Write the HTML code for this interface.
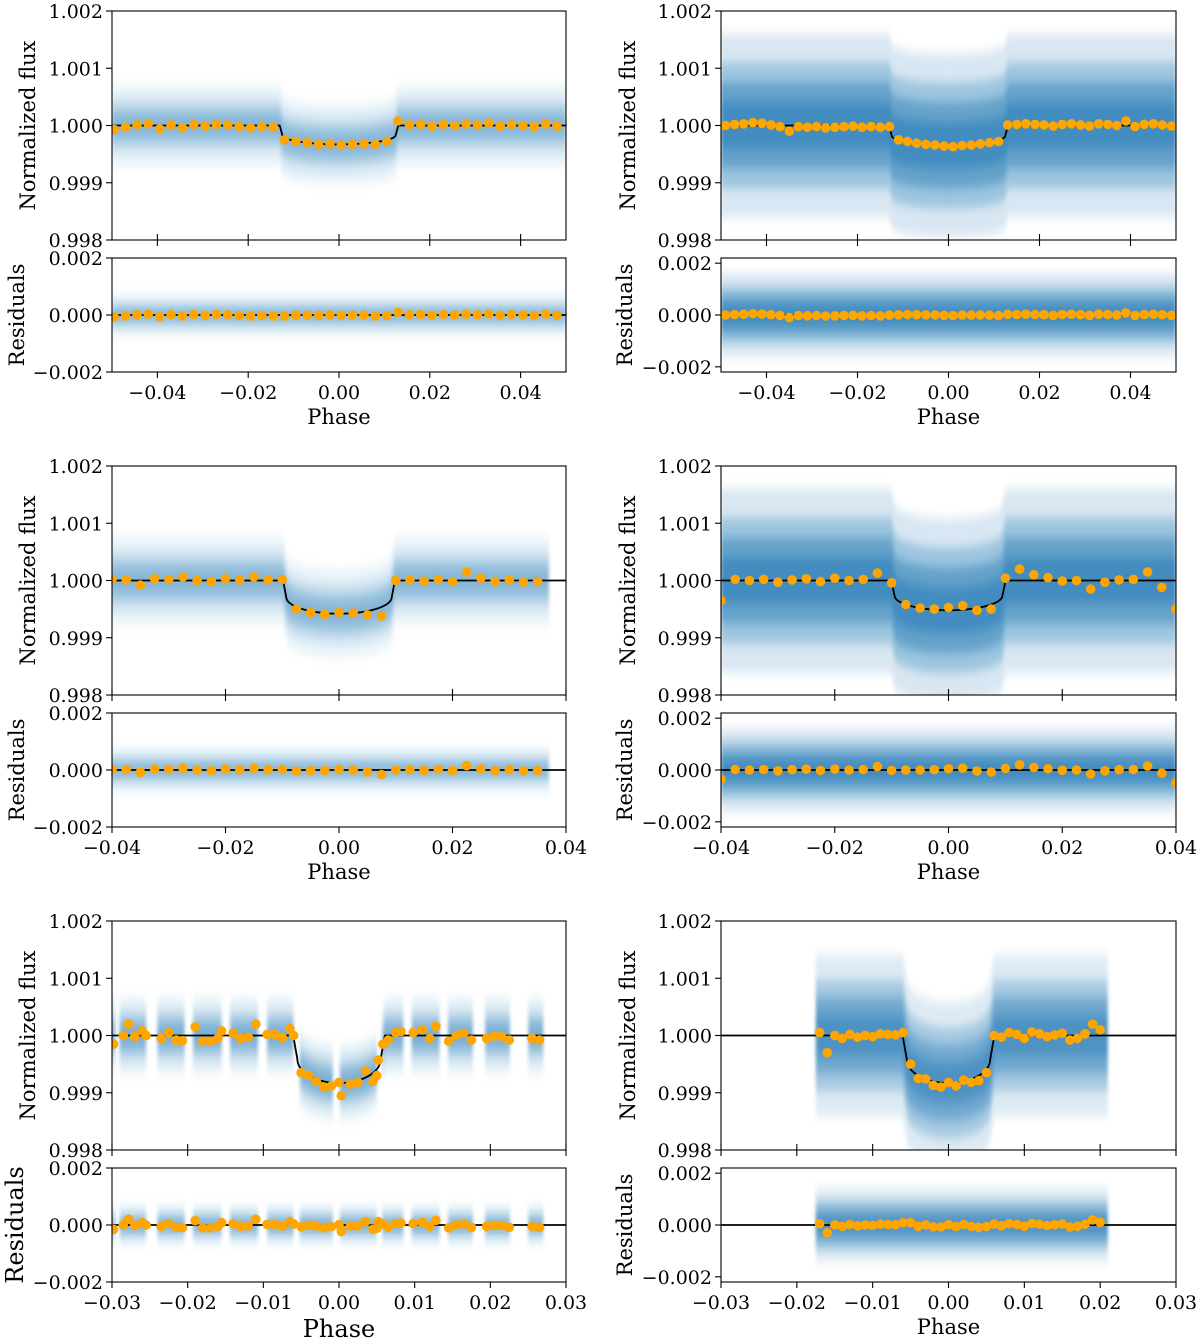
<!DOCTYPE html>
<html><head><meta charset="utf-8"><style>
html,body{margin:0;padding:0;background:#fff;}
svg{display:block;font-family:"DejaVu Serif","Liberation Serif",serif;}
</style></head><body>
<svg id="fig" width="1200" height="1341" viewBox="0 0 1200 1341" xmlns="http://www.w3.org/2000/svg">
<defs><filter id="soft" x="-5%" y="-20%" width="110%" height="140%"><feGaussianBlur stdDeviation="1.5 5"/></filter></defs>
</svg>
<script>
// ---------- DATA (binned fluxes in ppm relative to 1.0) ----------
const aStart=-0.0495, aStep=0.0025;
const aFlux=[-70,-30,10,30,-60,10,-40,20,-10,20,10,-20,-40,-20,-30,-250,-280,-300,-330,-320,-340,-330,-320,-330,-280,80,10,20,-10,20,0,30,10,40,-10,20,0,-20,30,-10];
const bStart=-0.049, bStep=0.002;
const bFlux=[0,20,30,50,40,10,-20,-100,-20,-30,-20,-40,-30,-20,-10,-30,-20,-30,-20,-250,-280,-310,-330,-340,-360,-370,-350,-340,-320,-300,-280,10,20,30,20,10,-10,20,30,10,-10,30,20,0,80,-20,20,30,10,-10];
const cStart=-0.04, cStep=0.0025;
const cFlux=[20,10,-80,30,20,60,0,-20,30,10,60,10,20,-500,-560,-590,-560,-570,-600,-620,0,10,-10,20,-20,150,40,-20,10,-30,-20];
const dStart=-0.04, dStep=0.0025;
const dFlux=[-350,20,0,20,-30,10,30,-20,40,0,20,130,-40,-420,-480,-500,-470,-440,-520,-500,40,200,100,50,-10,0,-150,-30,10,20,150,-120,-500];
const ePhase=[-0.0298,-0.0285,-0.0278,-0.027,-0.026,-0.0255,-0.0235,-0.0225,-0.0215,-0.0207,-0.019,-0.018,-0.017,-0.016,-0.0155,-0.014,-0.013,-0.012,-0.011,-0.0095,-0.0085,-0.0075,-0.0065,-0.006,-0.005,-0.004,-0.003,-0.002,-0.001,0.0,0.0003,0.0015,0.0025,0.0035,0.0045,0.005,0.0052,0.0058,0.0065,0.0075,0.0082,0.0098,0.011,0.012,0.0128,0.0145,0.0155,0.0165,0.0175,0.0195,0.0205,0.0215,0.0225,0.0255,0.0265];
const eFlux=[-150,0,200,-20,80,0,-50,50,-80,-90,150,-100,-100,-50,80,40,-50,-30,200,20,20,-40,120,0,-650,-700,-800,-900,-880,-820,-1050,-850,-820,-620,-800,-700,-430,-150,-80,50,70,50,100,-50,160,-100,0,40,-80,-50,-10,-20,-80,-50,-80];
const fStart=-0.017, fStep=0.001;
const fFlux=[50,-300,0,-50,20,-30,0,-20,30,20,10,50,-500,-750,-760,-870,-900,-820,-880,-780,-820,-790,-650,0,-30,50,20,-50,60,30,-20,10,40,-80,-50,30,200,100];
// model parameters
const halfDur=[0.0125,0.0125,0.0093,0.0095,0.0055,0.0055];
const depthPpm=[330,350,580,520,830,830];
const noisePpm=[220,500,240,500,210,440];
// data coverage segments
const coverA=[[-0.05,0.05]], coverB=[[-0.05,0.05]], coverC=[[-0.0405,0.037]], coverD=[[-0.04,0.04]];
const coverE=[[-0.0302,-0.0296],[-0.029,-0.0255],[-0.024,-0.0204],[-0.0193,-0.0155],[-0.0144,-0.0107],[-0.0095,-0.006],[-0.0052,-0.0008],[0.0001,0.005],[0.0057,0.0085],[0.0096,0.0133],[0.0144,0.0177],[0.0193,0.0226],[0.025,0.027]];
const coverF=[[-0.0175,0.021]];
const xTicks1=[-0.04,-0.02,0,0.02,0.04], xTicks2=[-0.04,-0.02,0,0.02,0.04], xTicks3=[-0.03,-0.02,-0.01,0,0.01,0.02,0.03];
const yTicksMain=[0.998,0.999,1.000,1.001,1.002], yTicksRes=[-0.002,0,0.002];

function bins(start,step,vals){return vals.map((v,i)=>start+step*i);}
const panels=[
 {ph:bins(aStart,aStep,aFlux),fl:aFlux,cov:coverA,xr:[-0.05,0.05],xt:xTicks1,col:0,row:0,al:0.25},
 {ph:bins(bStart,bStep,bFlux),fl:bFlux,cov:coverB,xr:[-0.05,0.05],xt:xTicks1,col:1,row:0,al:0.5},
 {ph:bins(cStart,cStep,cFlux),fl:cFlux,cov:coverC,xr:[-0.04,0.04],xt:xTicks2,col:0,row:1,al:0.25},
 {ph:bins(dStart,dStep,dFlux),fl:dFlux,cov:coverD,xr:[-0.04,0.04],xt:xTicks2,col:1,row:1,al:0.5},
 {ph:ePhase,fl:eFlux,cov:coverE,xr:[-0.03,0.03],xt:xTicks3,col:0,row:2,al:0.28},
 {ph:bins(fStart,fStep,fFlux),fl:fFlux,cov:coverF,xr:[-0.03,0.03],xt:xTicks3,col:1,row:2,al:0.45}
];
const NS="http://www.w3.org/2000/svg";
const svg=document.getElementById('fig');
function el(tag,attrs,parent){const e=document.createElementNS(NS,tag);for(const k in attrs)e.setAttribute(k,attrs[k]);(parent||svg).appendChild(e);return e;}
function fmt(v,d){const s=Math.abs(v).toFixed(d);return (v<-1e-12?'\u2212':'')+s;}
function model(p,i){const t=halfDur[i],D=depthPpm[i]*1e-6,a=0.5,w=0.00055;const x=Math.abs(p);
 if(x>=t+w)return 0; if(x>t)return -a*D*(t+w-x)/w; const q=x/t; return -D*(1-(1-a)*(1-Math.sqrt(1-q*q)));}

panels.forEach((P,i)=>{
 const x0=P.col?721:112, x1=P.col?1176:566;
 const top=[11,466,921][P.row];
 const mT=top,mB=top+229,rT=top+247,rB=top+361;
 const rlim=P.col?0.0022:0.002;
 const sx=p=>x0+(p-P.xr[0])/(P.xr[1]-P.xr[0])*(x1-x0);
 const syM=v=>mB-(v-0.998)/0.004*(mB-mT);
 const syR=v=>rB-(v+rlim)/(2*rlim)*(rB-rT);
 const g=el('g',{});  
 const cid='c'+i;
 const defs=el('defs',{},g);
 const cp1=el('clipPath',{id:cid+'m'},defs); el('rect',{x:x0,y:mT,width:x1-x0,height:mB-mT},cp1);
 const cp2=el('clipPath',{id:cid+'r'},defs); el('rect',{x:x0,y:rT,width:x1-x0,height:rB-rT},cp2);
 [['m',syM,1],['r',syR,0]].forEach(([k,sy,isMain])=>{
  const cg=el('g',{'clip-path':'url(#'+cid+k+')'},g);
  
  
  const bg=el('g',{filter:'url(#soft)'},cg);
  
  
  const sig=noisePpm[i]*1e-6;
  P.cov.forEach(seg=>{
   [3.2,2.2,1.5,0.8].forEach((m,li)=>{
    const pts=[],bot=[];
    const n=Math.max(4,Math.ceil((seg[1]-seg[0])/0.0002));
    for(let j=0;j<=n;j++){const p=seg[0]+(seg[1]-seg[0])*j/n;const base=isMain?1+model(p,i):0;
      pts.push(sx(p).toFixed(1)+','+sy(base+m*sig).toFixed(1));bot.unshift(sx(p).toFixed(1)+','+sy(base-m*sig).toFixed(1));}
    const poly=el('polygon',{points:pts.concat(bot).join(' '),fill:'#1f77b4','fill-opacity':P.al*[0.35,0.6,0.9,1][li]},bg);
    
    
   });
  });
  // model line
  const lp=[];const n=900;
  for(let j=0;j<=n;j++){const p=P.xr[0]+(P.xr[1]-P.xr[0])*j/n;lp.push(sx(p).toFixed(2)+','+sy(isMain?1+model(p,i):0).toFixed(2));}
  const line=el('polyline',{points:lp.join(' '),fill:'none',stroke:'#000','stroke-width':1.8},cg);
  
  
  P.ph.forEach((p,j)=>{const v=P.fl[j]*1e-6;const y=isMain?1+v:v-model(p,i);
   const c=el('circle',{cx:sx(p).toFixed(1),cy:sy(y).toFixed(1),r:4.8,fill:'#ffa500'},cg);
   
   });
 });
 // frames
 [[mT,mB],[rT,rB]].forEach(([a,b])=>{const f=el('rect',{x:x0,y:a,width:x1-x0,height:b-a,fill:'none',stroke:'#000','stroke-width':1.1},g);
   });
 // x ticks
 P.xt.forEach(t=>{const x=sx(t);
  el('line',{x1:x,x2:x,y1:mB-6,y2:mB+6,stroke:'#000','stroke-width':1.1},g);
  el('line',{x1:x,x2:x,y1:rB,y2:rB+6,stroke:'#000','stroke-width':1.1},g);
  const tl=el('text',{x:x,y:rB+27,'text-anchor':'middle','font-size':19},g);tl.textContent=fmt(t,2);
   });
 // y ticks
 yTicksMain.forEach(t=>{const y=syM(t);el('line',{x1:x0-6,x2:x0,y1:y,y2:y,stroke:'#000','stroke-width':1.1},g);
  const tl=el('text',{x:x0-9,y:y+7,'text-anchor':'end','font-size':19},g);tl.textContent=t.toFixed(3);
   });
 yTicksRes.forEach(t=>{const y=syR(t);el('line',{x1:x0-6,x2:x0,y1:y,y2:y,stroke:'#000','stroke-width':1.1},g);
  const tl=el('text',{x:x0-9,y:y+7,'text-anchor':'end','font-size':19},g);tl.textContent=fmt(t,3);
   });
 // labels
 const big=(P.row===2&&P.col===0);
 const lx=P.col?628:28;
 const yl=el('text',{x:lx,y:(mT+mB)/2,'text-anchor':'middle','font-size':21,transform:'rotate(-90 '+lx+' '+(mT+mB)/2+')','dominant-baseline':'central'},g);
 yl.textContent='Normalized flux';  
 const rx=P.col?625:(big?15:17);
 const rl=el('text',{x:rx,y:(rT+rB)/2,'text-anchor':'middle','font-size':big?24:21,transform:'rotate(-90 '+rx+' '+(rT+rB)/2+')','dominant-baseline':'central'},g);
 rl.textContent='Residuals';  
 const xl=el('text',{x:(x0+x1)/2,y:rB+(big?55:52),'text-anchor':'middle','font-size':big?24:21},g);
 xl.textContent='Phase';  
});
</script>
</body></html>
